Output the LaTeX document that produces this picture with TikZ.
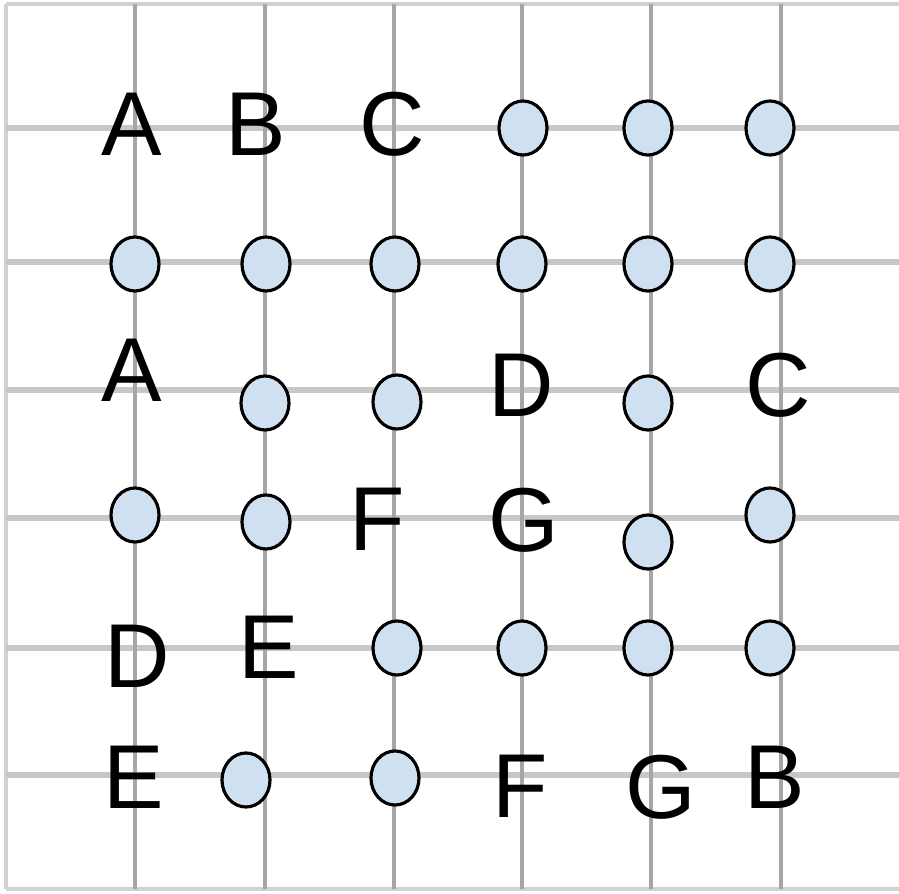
\documentclass[tikz,border=0pt]{standalone}
\usepackage{fontspec}
\setmainfont{Liberation Sans}
\usepackage{tikz}
\usetikzlibrary{shapes.geometric}
\definecolor{dotblue}{RGB}{207,224,241}
\tikzset{
  dot/.style={ellipse,draw=black,fill=dotblue,minimum width=4.8mm,minimum height=5.4mm,inner sep=0pt,line width=.9pt},
  lt/.style={inner sep=0pt,font=\fontsize{25.8}{30}\selectfont},
  vln/.style={draw=black!35,line width=1.2pt},
  hln/.style={draw=black!22,line width=1.5pt},
  brd/.style={draw=black!18,line width=1pt},
}
\begin{document}
\begin{tikzpicture}[x=0.01cm,y=-0.01cm]
\useasboundingbox (0,0) rectangle (899,894);
% the sheet's grid
\draw[brd] (6,4) -- (6,889) (6,4) -- (899,4) (6,889) -- (899,889);
\foreach \y in {128,262,390,518,648,775} \draw[hln] (6,\y) -- (899,\y);
\foreach \x in {135,265,394,522,651,781} \draw[vln] (\x,4) -- (\x,889);
% row 1
\node[lt] (a1) at (132,124) {A}; \node[lt] (b1) at (256,124) {B};
\node[lt] (c1) at (392,124) {C};
\node[dot] (d14) at (523,128) {}; \node[dot] (d15) at (648,128) {};
\node[dot] (d16) at (770,128) {};
% row 2
\node[dot] (d21) at (135,264) {}; \node[dot] (d22) at (266,264) {};
\node[dot] (d23) at (395,264) {}; \node[dot] (d24) at (522,264) {};
\node[dot] (d25) at (648,264) {}; \node[dot] (d26) at (770,264) {};
% row 3
\node[lt] (a3) at (132,370) {A};
\node[dot] (d32) at (265,403) {}; \node[dot] (d33) at (397,402) {};
\node[lt] (d3) at (521,385) {D};
\node[dot] (d35) at (648,403) {};
\node[lt] (c3) at (778,385) {C};
% row 4
\node[dot] (d41) at (135,515) {}; \node[dot] (d42) at (266,522) {};
\node[lt] (f4) at (377,519) {F}; \node[lt] (g4) at (524,520) {G};
\node[dot] (d45) at (648,542) {}; \node[dot] (d46) at (770,515) {};
% row 5
\node[lt] (d5) at (137,656) {D}; \node[lt] (e5) at (269,647) {E};
\node[dot] (d53) at (397,648) {}; \node[dot] (d54) at (522,648) {};
\node[dot] (d55) at (648,648) {}; \node[dot] (d56) at (770,648) {};
% row 6
\node[lt] (e6) at (134,777) {E};
\node[dot] (d62) at (246,780) {}; \node[dot] (d63) at (395,778) {};
\node[lt] (f6) at (520,786) {F}; \node[lt] (g6) at (661,787) {G};
\node[lt] (b6) at (775,777) {B};
\end{tikzpicture}
\end{document}
